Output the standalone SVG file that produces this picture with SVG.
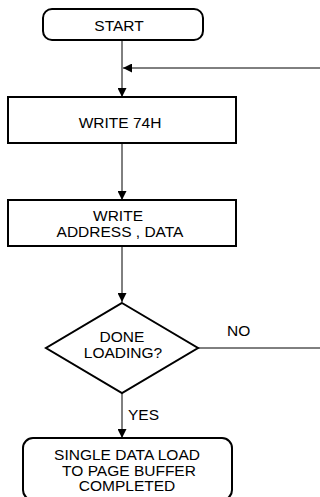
<svg xmlns="http://www.w3.org/2000/svg" width="320" height="497" viewBox="0 0 320 497">
<defs>
<style>
.box{fill:#fff;stroke:#000;stroke-width:2}
.ln{fill:none;stroke:#000;stroke-width:1}
.t{font-family:"Liberation Sans",Arial,sans-serif;font-size:15.5px;fill:#000;text-anchor:middle}
.l{font-family:"Liberation Sans",Arial,sans-serif;font-size:15.5px;fill:#000}
</style>
<marker id="ah" markerWidth="9" markerHeight="9" refX="9" refY="4.5" orient="auto" markerUnits="userSpaceOnUse">
<path d="M0,0 L9,4.5 L0,9 Z" fill="#000"/>
</marker>
</defs>
<g id="connectors">
<line class="ln" x1="122" y1="40" x2="122" y2="97" marker-end="url(#ah)"/>
<line class="ln" x1="320" y1="68" x2="123" y2="68" marker-end="url(#ah)"/>
<line class="ln" x1="122" y1="143" x2="122" y2="200" marker-end="url(#ah)"/>
<line class="ln" x1="122" y1="246" x2="122" y2="302" marker-end="url(#ah)"/>
<line class="ln" x1="198" y1="348" x2="320" y2="348"/>
<line class="ln" x1="122" y1="393" x2="122" y2="438" marker-end="url(#ah)"/>
<text class="l" x="227" y="336">NO</text>
<text class="l" x="128" y="420">YES</text>
</g>
<g id="start">
<rect class="box" x="43" y="9" width="160" height="31" rx="9"/>
<text class="t" x="119" y="31">START</text>
</g>
<g id="write74h">
<rect class="box" x="8" y="97" width="228" height="46"/>
<text class="t" x="120" y="128">WRITE 74H</text>
</g>
<g id="writeaddr">
<rect class="box" x="8" y="200" width="228" height="46"/>
<text class="t" x="118" y="221">WRITE</text>
<text class="t" x="120" y="236.5">ADDRESS , DATA</text>
</g>
<g id="done">
<polygon class="box" points="122,303 198,348 122,393 46,348"/>
<text class="t" x="122" y="342">DONE</text>
<text class="t" x="123" y="357.5">LOADING?</text>
</g>
<g id="complete">
<rect class="box" x="23" y="438" width="209" height="62" rx="10"/>
<text class="t" x="127" y="460">SINGLE DATA LOAD</text>
<text class="t" x="129" y="475.5">TO PAGE BUFFER</text>
<text class="t" x="127" y="491">COMPLETED</text>
</g>
</svg>
